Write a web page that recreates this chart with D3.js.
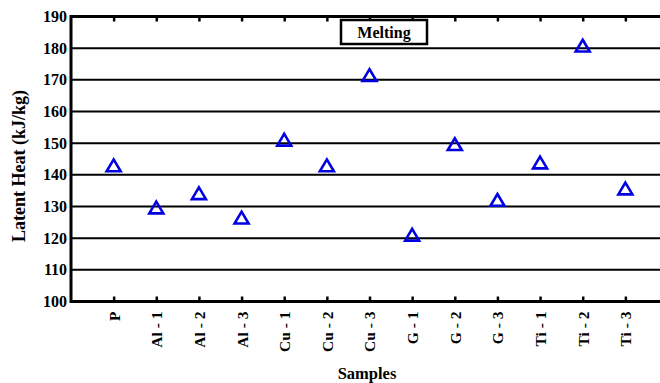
<!DOCTYPE html>
<html><head><meta charset="utf-8">
<script src="https://cdn.jsdelivr.net/npm/d3@7"></script>
<style>body{margin:0;background:#fff;overflow:hidden}svg{display:block}
svg text{font-family:"Liberation Serif","Times New Roman",serif !important;font-weight:bold;fill:#000}</style>
</head><body>
<svg id="c" width="660" height="383"></svg>
<script>
const categories = ["P","Al - 1","Al - 2","Al - 3","Cu - 1","Cu - 2","Cu - 3","G - 1","G - 2","G - 3","Ti - 1","Ti - 2","Ti - 3"];
const latentHeat = [142.9,129.6,134.1,126.4,151.0,142.9,171.4,121.0,149.6,132.0,143.8,180.7,135.6];
const yTicks = [100,110,120,130,140,150,160,170,180,190];
const legendLabel = "Melting";
const xTitle = "Samples";
const yTitle = "Latent Heat (kJ/kg)";

const svg = d3.select("#c");
const L = 71, T = 16.5, B = 301.5, R = 668;
const x = d3.scaleLinear().domain([0, 14]).range([L, R]);
const y = d3.scaleLinear().domain([100, 190]).range([B, T]);

// gridlines
svg.append("g").selectAll("line").data(yTicks).join("line")
  .attr("x1", L).attr("x2", R).attr("y1", d => y(d)).attr("y2", d => y(d))
  .attr("stroke", "#000").attr("stroke-width", 2);

// x axis bottom
const xAxis = d3.axisBottom(x).tickValues(d3.range(1, 14)).tickSize(-5).tickFormat((d) => categories[d-1]);
const gx = svg.append("g").attr("transform", `translate(0,${B})`).call(xAxis);
gx.select(".domain").attr("stroke-width", 3).attr("d", `M${L},0H${R}`);
gx.selectAll(".tick line").attr("stroke-width", 2.5);
gx.selectAll(".tick text")
  .style("font-size", "15.5px")
  .attr("transform", "rotate(-90)").attr("text-anchor", "end")
  .attr("x", -10).attr("y", 0).attr("dy", "0.35em");

// top ticks
const gt = svg.append("g").attr("transform", `translate(0,${T})`).call(d3.axisTop(x).tickValues(d3.range(1, 14)).tickSize(-5).tickFormat(""));
gt.select(".domain").attr("stroke-width", 3).attr("d", `M${L},0H${R}`);
gt.selectAll(".tick line").attr("stroke-width", 2.5);

// y axis
const gy = svg.append("g").attr("transform", `translate(${L},0)`).call(d3.axisLeft(y).tickValues(yTicks).tickSize(0).tickPadding(4));
gy.select(".domain").attr("stroke-width", 3).attr("d", `M0,${T-1.5}V${B+1.5}`);
gy.selectAll(".tick text").style("font-size", "16px");

// markers
const tri = "M0,-6.2L7,5.6L-7,5.6Z";
svg.append("g").selectAll("path").data(latentHeat).join("path")
  .attr("d", tri)
  .attr("transform", (d, i) => `translate(${x(i+1)},${y(d)})`)
  .attr("fill", "none").attr("stroke", "#0000e0").attr("stroke-width", 2.6).attr("stroke-linejoin", "miter");

// legend box
const lg = svg.append("g");
lg.append("rect").attr("x", 342).attr("y", 21).attr("width", 86).attr("height", 24)
  .attr("fill", "#000");
lg.append("rect").attr("x", 341).attr("y", 20).attr("width", 86).attr("height", 24)
  .attr("fill", "#fff").attr("stroke", "#000").attr("stroke-width", 2.5);
lg.append("text").attr("x", 384).attr("y", 37.5).attr("text-anchor", "middle")
  .style("font-size", "16px").text(legendLabel);

// titles
svg.append("text").attr("x", 367).attr("y", 379).attr("text-anchor", "middle")
  .style("font-size", "16.5px").text(xTitle);
svg.append("text").attr("transform", "translate(25,166) rotate(-90)").attr("text-anchor", "middle")
  .style("font-size", "18px").text(yTitle);
</script>
</body></html>
